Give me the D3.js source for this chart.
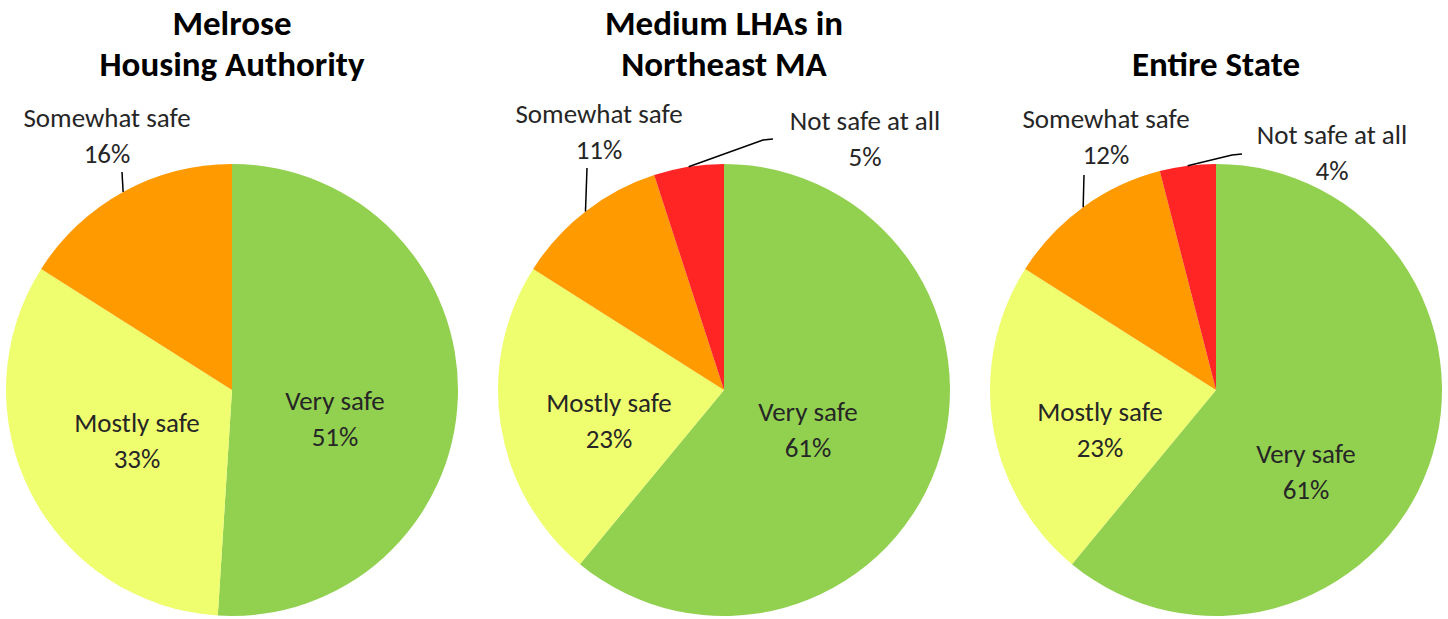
<!DOCTYPE html>
<html>
<head>
<meta charset="utf-8">
<script src="https://cdn.jsdelivr.net/npm/d3@7"></script>
<style>
  body { margin: 0; background: #fff; }
  svg { display: block; }
</style>
</head>
<body>
<div id="chart"></div>
<script>
// data
var categories = ["Very safe", "Mostly safe", "Somewhat safe", "Not safe at all"];
var chartTitles = [["Melrose", "Housing Authority"], ["Medium LHAs in", "Northeast MA"], ["Entire State"]];
var melroseValues = [51, 33, 16, 0];
var northeastValues = [61, 23, 11, 5];
var stateValues = [61, 23, 12, 4];
var allValues = [melroseValues, northeastValues, stateValues];

// colors
var sliceColors = ["#92d050", "#effe6e", "#ff9a00", "#ff2525"];
var labelColor = "#262626";

var width = 1448, height = 619;
var radius = 226;
var centersX = [232, 724, 1216];
var centerY = 390;

// label centres relative to each pie centre (layout only)
var labelOffsets = [
  [[103, 29], [-95, 51], [-125, -254], null],
  [[84, 40], [-115, 31], [-125, -258], [141, -251]],
  [[90, 82], [-116, 40], [-110, -253], [116, -237]]
];
// leader line points (before reaching the slice edge)
var leaderPoints = [
  [null, null, [[-110, -218]], null],
  [null, null, [[-137, -222]], [[49, -251], [39, -250]]],
  [null, null, [[-132, -215]], [[26, -236], [16, -235]]]
];

var svg = d3.select("#chart").append("svg")
  .attr("width", width)
  .attr("height", height);

var pie = d3.pie().sort(null).value(d => d);
var arc = d3.arc().innerRadius(0).outerRadius(radius);
var edgeArc = d3.arc().innerRadius(radius).outerRadius(radius);

var fontFamily = "Carlito, Calibri, Lato, 'Noto Sans', sans-serif";

allValues.forEach((vals, i) => {
  var g = svg.append("g").attr("transform", "translate(" + centersX[i] + "," + centerY + ")");
  var arcs = pie(vals);

  g.selectAll("path.slice").data(arcs).enter().append("path")
    .attr("class", "slice")
    .attr("d", arc)
    .attr("fill", (d, j) => sliceColors[j]);

  // leader lines
  arcs.forEach((d, j) => {
    var pts = leaderPoints[i][j];
    if (!pts || d.value === 0) return;
    var edge = edgeArc.centroid(d);
    var line = pts.concat([edge]);
    g.append("path")
      .attr("d", d3.line()(line))
      .attr("fill", "none")
      .attr("stroke", "#000")
      .attr("stroke-width", 1.5);
  });

  // labels
  arcs.forEach((d, j) => {
    var off = labelOffsets[i][j];
    if (!off || d.value === 0) return;
    var t = g.append("text")
      .attr("text-anchor", "middle")
      .attr("font-family", fontFamily)
      .attr("font-size", "27px")
      .attr("fill", labelColor);
    t.append("tspan").attr("x", off[0]).attr("y", off[1] - 18).attr("dy", "0.35em").text(categories[j]);
    t.append("tspan").attr("x", off[0]).attr("y", off[1] + 18).attr("dy", "0.35em").text(d.value + "%");
  });

  // title
  var lines = chartTitles[i];
  var title = svg.append("text")
    .attr("text-anchor", "middle")
    .attr("font-family", fontFamily)
    .attr("font-weight", "bold")
    .attr("font-size", "35px")
    .attr("fill", "#000");
  lines.forEach((ln, k) => {
    var baseY = 76 - (lines.length - 1 - k) * 41;
    title.append("tspan").attr("x", centersX[i]).attr("y", baseY).text(ln);
  });
});
</script>
</body>
</html>
